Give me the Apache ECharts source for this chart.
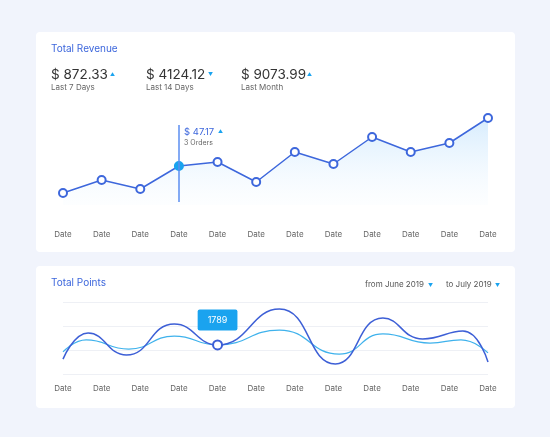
<!DOCTYPE html>
<html><head><meta charset="utf-8">
<script src="https://cdn.jsdelivr.net/npm/echarts@6/dist/echarts.min.js"></script>
<style>html,body{margin:0;padding:0;background:#f1f4fc}#c{width:550px;height:437px}</style>
</head><body><div id="c"></div>
<script>
const revCategories = ['Date','Date','Date','Date','Date','Date','Date','Date','Date','Date','Date','Date'];
const revValues = [12,25,16,39,43,23,53,41,68,53,62,87];
const ptsTickLabels = ['Date','Date','Date','Date','Date','Date','Date','Date','Date','Date','Date','Date'];
const ptsDark = [[0,0.62],[0.65,1.71],[1.64,0.79],[2.88,2.08],[4,1.21],[5.6,2.71],[7.05,0.42],[8.28,2.33],[9.31,1.46],[10.35,1.79],[11,0.5]];
const ptsLight = [[0,0.92],[0.6,1.42],[1.7,1.04],[2.88,1.58],[4,1.21],[5.6,1.83],[7.15,0.83],[8.28,1.67],[9.5,1.29],[10.3,1.42],[11,0.88]];
const highlightIdx = 3, highlightPt = 4;

const F = 'Inter, "Noto Sans", sans-serif';
const blue = '#3d67dc', cyan = '#1aa3ef';
const chart = echarts.init(document.getElementById('c'));
function txt(x,y,t,size,color,weight){return {type:'text',left:x,top:y,z:10,style:{text:t,fontSize:size,fill:color,fontFamily:F,fontWeight:weight||'normal'}};}
const revData = revValues.map((v,i)=> i===highlightIdx ? {value:v,symbol:'circle',itemStyle:{color:cyan,borderColor:cyan}} : v);
const darkData = ptsDark.map((v,i)=> i===highlightPt ? {value:v,symbol:'emptyCircle',symbolSize:9,
  label:{show:true,position:'top',distance:9,formatter:'1789',color:'#fff',fontSize:9,fontFamily:F,backgroundColor:cyan,padding:[6,10],borderRadius:2}}
  : {value:v,symbol:'none'});
chart.setOption({
  backgroundColor:'#f1f4fc',
  animation:false,
  graphic:[
    {type:'rect',shape:{x:36,y:32,width:479,height:220,r:4},style:{fill:'#fff'},z:-10},
    {type:'rect',shape:{x:36,y:266,width:479,height:142,r:4},style:{fill:'#fff'},z:-10},
    txt(51,44,'Total Revenue',10,blue),
    txt(51,68,'$ 872.33',13.5,'#333'), txt(110,72,'▲',5,cyan), txt(51,84,'Last 7 Days',8,'#666'),
    txt(146,68,'$ 4124.12',13.5,'#333'), txt(208,72,'▼',5,cyan), txt(146,84,'Last 14 Days',8,'#666'),
    txt(241,68,'$ 9073.99',13.5,'#333'), txt(307,72,'▲',5,cyan), txt(241,84,'Last Month',8,'#666'),
    txt(184,127,'$ 47.17',9.5,blue), txt(218,129,'▲',5,cyan), txt(184,139,'3 Orders',7,'#666'),
    txt(51,278,'Total Points',10,blue),
    txt(365,281,'from June 2019',8,'#555'), txt(428,283,'▼',5,cyan),
    txt(446,281,'to July 2019',8,'#555'), txt(495,283,'▼',5,cyan)
  ],
  grid:[
    {left:63,right:62,top:105,bottom:232,containLabel:false},
    {left:63,right:62,top:302,bottom:63,containLabel:false}
  ],
  xAxis:[
    {gridIndex:0,type:'category',data:revCategories,boundaryGap:false,axisLine:{show:false},axisTick:{show:false},
     axisLabel:{color:'#666',fontSize:8,fontFamily:F,margin:26}},
    {gridIndex:1,type:'value',min:0,max:11,interval:1,axisLine:{show:false},axisTick:{show:false},splitLine:{show:false},
     axisLabel:{color:'#666',fontSize:8,fontFamily:F,margin:11,formatter:v=>ptsTickLabels[Math.round(v)]||''}}
  ],
  yAxis:[
    {gridIndex:0,type:'value',min:0,max:100,show:false,splitLine:{show:false}},
    {gridIndex:1,type:'value',min:0,max:3,interval:1,axisLabel:{show:false},axisLine:{show:false},axisTick:{show:false},
     splitLine:{lineStyle:{color:'#eef0f5'}}}
  ],
  series:[
    {type:'line',xAxisIndex:0,yAxisIndex:0,data:revData,symbol:'emptyCircle',symbolSize:8,
     lineStyle:{color:blue,width:1.5},itemStyle:{color:blue,borderWidth:2},
     areaStyle:{color:new echarts.graphic.LinearGradient(0,0,0,1,[{offset:0,color:'rgba(150,205,250,0.55)'},{offset:1,color:'rgba(220,240,255,0.1)'}])},
     markLine:{silent:true,symbol:'none',label:{show:false},lineStyle:{color:'#5b8ef0',type:'solid',width:1.5},
       data:[[{coord:[highlightIdx,80]},{coord:[highlightIdx,3]}]]}},
    {type:'line',xAxisIndex:1,yAxisIndex:1,data:ptsLight,smooth:0.5,symbol:'none',lineStyle:{color:'#3fb2ec',width:1.2}},
    {type:'line',xAxisIndex:1,yAxisIndex:1,data:darkData,smooth:0.5,showSymbol:true,
     lineStyle:{color:'#3d5fd6',width:1.5},itemStyle:{color:'#3d5fd6',borderWidth:2}}
  ]
});
</script></body></html>
